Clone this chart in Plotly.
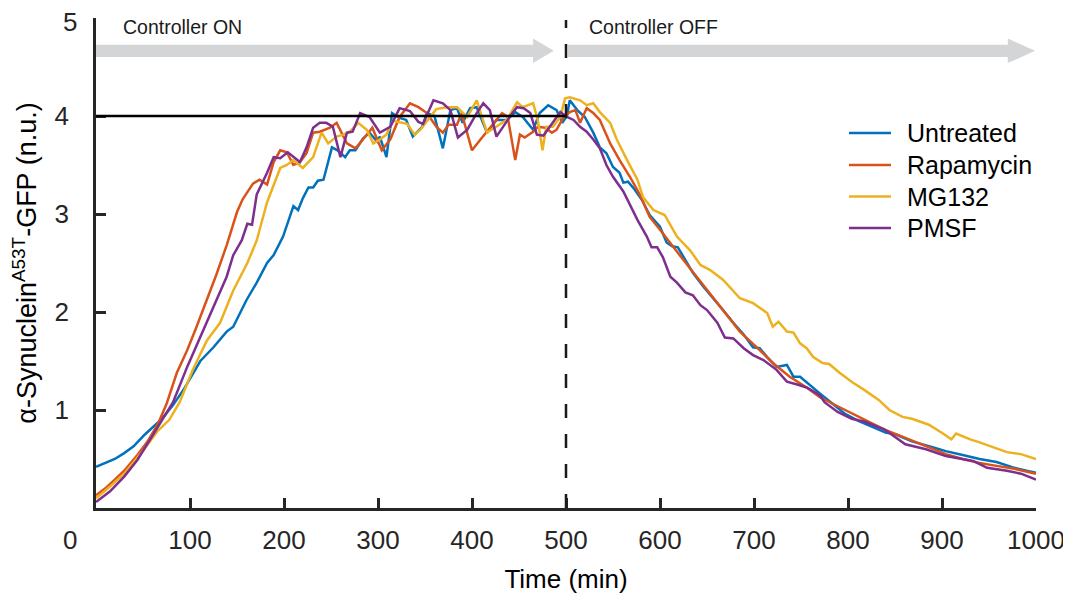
import plotly.graph_objects as go

# ---------------- data ----------------
t_untreated = [0, 10, 20, 30, 40, 52, 60, 70, 82, 94,
               111, 125, 139, 146, 160, 171, 182, 189, 199, 210,
               215, 220, 226, 231, 236, 242, 251, 257, 265, 270,
               276, 284, 291, 299, 302, 309, 315, 323, 330, 337,
               347, 352, 360, 369, 377, 384, 390, 398, 405, 416,
               426, 437, 446, 454, 465, 472, 481, 490, 496, 501,
               504, 512, 520, 529, 536, 543, 550, 557, 561, 566,
               573, 581, 589, 600, 607, 613, 619, 625, 635, 646,
               656, 667, 678, 689, 699, 706, 714, 724, 735, 742,
               749, 756, 770, 779, 797, 811, 826, 840, 851, 868,
               890, 904, 922, 940, 958, 977, 990, 1000]
y_untreated = [0.42, 0.46, 0.50, 0.56, 0.63, 0.75, 0.82, 0.91, 1.05, 1.22,
               1.50, 1.64, 1.80, 1.85, 2.12, 2.30, 2.50, 2.58, 2.77, 3.08,
               3.04, 3.16, 3.27, 3.27, 3.34, 3.35, 3.68, 3.65, 3.58, 3.65,
               3.65, 3.77, 3.83, 3.74, 3.79, 3.58, 4.03, 3.98, 3.96, 3.79,
               3.89, 4.03, 4.00, 3.67, 4.06, 4.08, 3.93, 4.08, 4.09, 3.83,
               3.96, 3.96, 4.04, 3.99, 3.86, 4.03, 4.11, 4.06, 3.93, 4.00,
               4.16, 4.06, 3.99, 3.83, 3.68, 3.62, 3.48, 3.42, 3.32, 3.33,
               3.25, 3.14, 2.99, 2.87, 2.71, 2.67, 2.66, 2.56, 2.40, 2.26,
               2.15, 2.02, 1.89, 1.77, 1.64, 1.63, 1.54, 1.44, 1.46, 1.34,
               1.34, 1.28, 1.17, 1.10, 0.96, 0.89, 0.83, 0.77, 0.75, 0.68,
               0.62, 0.58, 0.54, 0.50, 0.47, 0.41, 0.38, 0.36]

t_rapamycin = [0, 11, 20, 30, 44, 55, 66, 75, 86, 97,
               107, 118, 128, 139, 150, 156, 167, 174, 182, 189,
               196, 203, 210, 217, 224, 231, 238, 249, 256, 267,
               276, 284, 294, 304, 313, 323, 334, 343, 352, 362,
               369, 375, 384, 389, 400, 409, 417, 426, 432, 438,
               446, 451, 456, 465, 470, 478, 485, 490, 497, 504,
               510, 515, 522, 529, 536, 547, 557, 568, 579, 589,
               600, 611, 625, 639, 653, 667, 685, 703, 720, 738,
               756, 770, 784, 797, 818, 839, 865, 883, 904, 922,
               940, 958, 977, 1000]
y_rapamycin = [0.13, 0.21, 0.29, 0.38, 0.54, 0.68, 0.86, 1.06, 1.38, 1.61,
               1.85, 2.12, 2.38, 2.68, 3.02, 3.15, 3.31, 3.35, 3.30, 3.53,
               3.65, 3.63, 3.50, 3.53, 3.62, 3.83, 3.84, 3.88, 3.93, 3.72,
               3.67, 3.76, 3.88, 3.65, 3.76, 3.99, 4.13, 4.09, 4.03, 3.89,
               3.83, 3.91, 3.91, 4.03, 3.65, 3.76, 3.86, 3.96, 4.03, 3.99,
               3.55, 3.81, 3.78, 3.84, 3.89, 3.88, 3.83, 3.86, 3.98, 4.04,
               4.06, 3.93, 4.08, 4.03, 3.96, 3.72, 3.55, 3.38, 3.19, 2.97,
               2.84, 2.70, 2.53, 2.36, 2.19, 2.02, 1.80, 1.64, 1.48, 1.34,
               1.23, 1.13, 1.06, 1.00, 0.90, 0.80, 0.70, 0.63, 0.55, 0.50,
               0.46, 0.43, 0.40, 0.35]

t_mg132 = [0, 15, 30, 52, 66, 78, 89, 103, 118, 132,
           146, 161, 171, 182, 196, 203, 210, 220, 231, 240,
           247, 256, 263, 270, 279, 288, 295, 302, 309, 316,
           331, 339, 345, 352, 362, 373, 384, 395, 405, 416,
           426, 437, 448, 454, 465, 470, 475, 479, 486, 494,
           499, 504, 515, 522, 529, 536, 547, 554, 565, 576,
           582, 593, 605, 618, 632, 643, 653, 667, 685, 699,
           714, 720, 726, 735, 742, 749, 756, 763, 773, 780,
           791, 805, 818, 833, 844, 858, 868, 886, 901, 910,
           915, 930, 940, 955, 969, 984, 1000]
y_mg132 = [0.10, 0.22, 0.35, 0.61, 0.79, 0.90, 1.08, 1.41, 1.71, 1.89,
           2.22, 2.50, 2.73, 3.12, 3.47, 3.50, 3.55, 3.47, 3.58, 3.83,
           3.72, 3.79, 3.81, 3.84, 3.93, 3.86, 3.72, 3.76, 3.81, 3.95,
           3.92, 3.81, 3.86, 3.95, 4.07, 4.09, 4.09, 3.99, 4.16, 3.83,
           3.89, 3.96, 4.14, 4.09, 4.13, 3.96, 3.65, 3.89, 3.89, 3.99,
           4.18, 4.19, 4.16, 4.11, 4.13, 4.04, 3.93, 3.76, 3.55, 3.35,
           3.17, 3.04, 2.99, 2.77, 2.63, 2.48, 2.43, 2.33, 2.14, 2.09,
           1.99, 1.85, 1.90, 1.80, 1.79, 1.68, 1.63, 1.54, 1.48, 1.47,
           1.38, 1.28, 1.20, 1.10, 1.00, 0.93, 0.91, 0.85, 0.76, 0.70,
           0.76, 0.70, 0.67, 0.62, 0.57, 0.55, 0.50]

t_pmsf = [0, 15, 30, 44, 59, 70, 82, 97, 111, 125,
          139, 146, 155, 161, 166, 171, 182, 189, 196, 204,
          217, 224, 231, 238, 245, 252, 257, 260, 267, 273,
          281, 291, 302, 313, 323, 334, 343, 348, 359, 369,
          377, 385, 395, 405, 412, 419, 426, 433, 443, 448,
          455, 462, 469, 476, 486, 494, 501, 508, 515, 522,
          529, 536, 543, 550, 561, 568, 576, 586, 591, 597,
          603, 611, 618, 627, 635, 643, 650, 661, 669, 678,
          689, 699, 710, 724, 735, 746, 756, 770, 775, 789,
          804, 818, 839, 861, 883, 904, 933, 948, 969, 984,
          1000]
y_pmsf = [0.06, 0.17, 0.32, 0.49, 0.72, 0.89, 1.08, 1.44, 1.75, 2.05,
          2.36, 2.58, 2.73, 2.90, 2.89, 3.20, 3.42, 3.58, 3.57, 3.63,
          3.53, 3.68, 3.88, 3.93, 3.93, 3.89, 3.68, 3.58, 3.83, 3.84,
          4.03, 3.99, 3.83, 3.89, 4.08, 4.05, 3.94, 3.92, 4.16, 4.13,
          4.06, 3.78, 3.86, 4.03, 4.13, 4.06, 3.79, 3.89, 4.03, 4.09,
          4.08, 4.03, 3.81, 3.80, 3.93, 4.04, 3.99, 3.96, 3.89, 3.84,
          3.76, 3.67, 3.50, 3.38, 3.23, 3.09, 2.94, 2.77, 2.66, 2.66,
          2.56, 2.36, 2.30, 2.20, 2.17, 2.07, 2.02, 1.89, 1.74, 1.73,
          1.63, 1.56, 1.51, 1.41, 1.29, 1.26, 1.23, 1.15, 1.08, 0.98,
          0.91, 0.88, 0.80, 0.65, 0.60, 0.53, 0.48, 0.41, 0.38, 0.35,
          0.29]

series_names = ["Untreated", "Rapamycin", "MG132", "PMSF"]
x_ticks = [100, 200, 300, 400, 500, 600, 700, 800, 900, 1000]
y_ticks = [1, 2, 3, 4, 5]
setpoint = 4
switch_time = 500
phase_labels = ["Controller ON", "Controller OFF"]

# ---------------- styling ----------------
colors = ["#0072BD", "#D95319", "#EDB120", "#7E2F8E"]
FONT = "Liberation Sans, Arial, Helvetica, sans-serif"
AX = "#262626"
ARROW = "#d4d5d7"

OFF = 8                       # default page body margin around the plot div
W, H = 1071 - OFF, 597 - OFF
L, R, T, B = 88, 35, 10, 89   # plot area in page pixels: x 96..1036, y 18..508
pw, ph = W - L - R, H - T - B


def px_x(p):
    return (p - OFF - L) / pw


def px_y(p):
    return (H - B - (p - OFF)) / ph


fig = go.Figure()
data = [(t_untreated, y_untreated), (t_rapamycin, y_rapamycin),
        (t_mg132, y_mg132), (t_pmsf, y_pmsf)]
for (tx, ty), name, c in zip(data, series_names, colors):
    fig.add_trace(go.Scatter(x=tx, y=ty, mode="lines", name=name, showlegend=False,
                             line=dict(color=c, width=2.5)))


def arrow_path(x0, xhead, xtip, yc, hb, hh):
    return (f"M{x0},{yc-hb} L{xhead},{yc-hb} L{xhead},{yc-hh} L{xtip},{yc} "
            f"L{xhead},{yc+hh} L{xhead},{yc+hb} L{x0},{yc+hb} Z")


shapes = [
    dict(type="path", xref="x", yref="y", layer="below", line=dict(width=0),
         fillcolor=ARROW, path=arrow_path(-3, 465, 487, 4.665, 0.062, 0.125)),
    dict(type="path", xref="x", yref="y", layer="below", line=dict(width=0),
         fillcolor=ARROW, path=arrow_path(502, 970, 999, 4.665, 0.062, 0.125)),
    dict(type="line", xref="x", yref="y", x0=0, x1=switch_time, y0=setpoint, y1=setpoint,
         line=dict(color="black", width=2.5), layer="above"),
    dict(type="line", xref="x", yref="y", x0=switch_time, x1=switch_time, y0=0, y1=4.98,
         line=dict(color="#1a1a1a", width=2.5, dash="14px,16px"), layer="above"),
]

# the top y label sits a little below its tick in the reference (kept inside the page)
y_ticktext = [str(v) for v in y_ticks]
y_ticktext[-1] = ""

annotations = [
    dict(x=27, y=4.905, xref="x", yref="y", text=phase_labels[0], showarrow=False,
         xanchor="left", yanchor="middle", font=dict(size=19.5, color="#1a1a1a", family=FONT)),
    dict(x=522, y=4.905, xref="x", yref="y", text=phase_labels[1], showarrow=False,
         xanchor="left", yanchor="middle", font=dict(size=19.5, color="#1a1a1a", family=FONT)),
    dict(x=px_x(70), y=px_y(540), xref="paper", yref="paper", text="0", showarrow=False,
         xanchor="center", yanchor="middle", font=dict(size=26, color=AX, family=FONT)),
    dict(x=px_x(70), y=px_y(22), xref="paper", yref="paper", text=str(y_ticks[-1]),
         showarrow=False, xanchor="center", yanchor="middle",
         font=dict(size=26, color=AX, family=FONT)),
]

# legend (drawn as line samples + text so that row spacing matches the reference)
legend_rows = [133, 165, 196.5, 228]
for name, c, ry in zip(series_names, colors, legend_rows):
    shapes.append(dict(type="line", xref="paper", yref="paper",
                       x0=px_x(849), x1=px_x(891), y0=px_y(ry), y1=px_y(ry),
                       line=dict(color=c, width=2.5)))
    annotations.append(dict(x=px_x(905), y=px_y(ry), xref="paper", yref="paper",
                            text=name, showarrow=False, xanchor="left", yanchor="middle",
                            font=dict(size=25, color="black", family=FONT)))

fig.update_layout(
    width=W, height=H,
    margin=dict(l=L, r=R, t=T, b=B, pad=0, autoexpand=False),
    plot_bgcolor="white", paper_bgcolor="white",
    font=dict(family=FONT, color="black"),
    shapes=shapes, annotations=annotations,
    showlegend=False,
    xaxis=dict(range=[0, 1000], automargin=False, showgrid=False, zeroline=False, showline=True,
               linecolor=AX, linewidth=2.5, ticks="inside", ticklen=10, tickwidth=2.5,
               tickcolor=AX, tickvals=x_ticks, ticktext=[str(v) for v in x_ticks],
               tickfont=dict(size=26, color=AX, family=FONT), ticklabelstandoff=7,
               ticklabeloverflow="allow",
               title=dict(text="Time (min)", font=dict(size=26, color="black", family=FONT),
                          standoff=16)),
    yaxis=dict(range=[0, 5], automargin=False, showgrid=False, zeroline=False, showline=True,
               linecolor=AX, linewidth=2.5, ticks="inside", ticklen=10, tickwidth=2.5,
               tickcolor=AX, tickvals=y_ticks, ticktext=y_ticktext,
               tickfont=dict(size=26, color=AX, family=FONT), ticklabelstandoff=19,
               ticklabeloverflow="allow",
               title=dict(text="α-Synuclein<sup>A53T</sup>-GFP (n.u.)",
                          font=dict(size=27, color="black", family=FONT), standoff=12)),
)

fig.write_html("out.html")
